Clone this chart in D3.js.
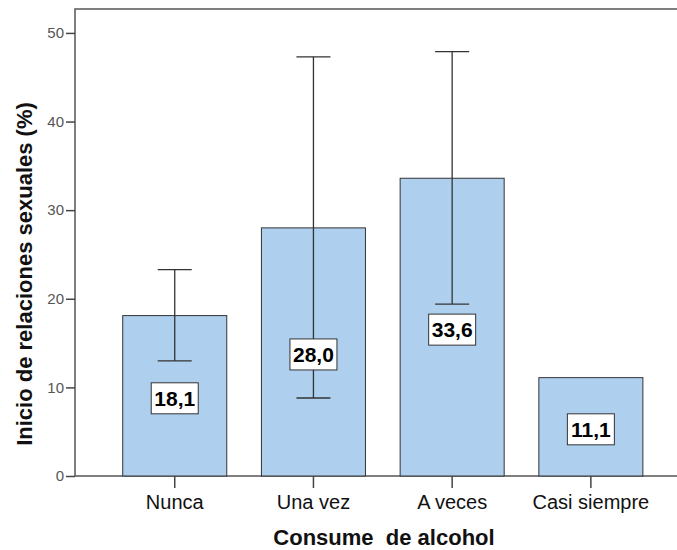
<!DOCTYPE html>
<html>
<head>
<meta charset="utf-8">
<script src="https://cdn.jsdelivr.net/npm/d3@7"></script>
<style>
  body { margin: 0; background: #fff; }
  svg { display: block; font-family: Arial, "Liberation Sans", sans-serif; }
</style>
</head>
<body>
<svg id="chart" width="677" height="550"></svg>
<script>
// Percentage who started sexual relations, by alcohol consumption
const categories = ["Nunca", "Una vez", "A veces", "Casi siempre"];
const values = [18.1, 28.0, 33.6, 11.1];
const ciLow = [13.0, 8.8, 19.4, null];
const ciHigh = [23.3, 47.3, 47.9, null];
const yTicks = [0, 10, 20, 30, 40, 50];

const svg = d3.select("#chart");
const plotLeft = 75, plotTop = 9, plotBottom = 476, plotRight = 690.6;

const x = d3.scaleBand().domain(categories).range([plotLeft, plotRight])
  .paddingInner(0.25).paddingOuter(0.344);
const y = d3.scaleLinear().domain([0, 52.7]).range([plotBottom, plotTop]);

// frame
svg.append("rect").attr("x", plotLeft).attr("y", plotTop)
  .attr("width", plotRight - plotLeft).attr("height", plotBottom - plotTop)
  .attr("fill", "none").attr("stroke", "#555").attr("stroke-width", 1.5);

// bars
svg.selectAll("rect.bar").data(categories).enter().append("rect")
  .attr("class", "bar")
  .attr("x", d => x(d))
  .attr("y", (d, i) => y(values[i]))
  .attr("width", x.bandwidth())
  .attr("height", (d, i) => y(0) - y(values[i]))
  .attr("fill", "#aecfee").attr("stroke", "#333").attr("stroke-width", 1);

// error bars
const cap = 17;
const eb = svg.append("g").attr("stroke", "#333").attr("stroke-width", 1.3);
categories.forEach((c, i) => {
  if (ciLow[i] == null) return;
  const cx = x(c) + x.bandwidth() / 2;
  eb.append("line").attr("x1", cx).attr("x2", cx).attr("y1", y(ciLow[i])).attr("y2", y(ciHigh[i]));
  eb.append("line").attr("x1", cx - cap).attr("x2", cx + cap).attr("y1", y(ciLow[i])).attr("y2", y(ciLow[i]));
  eb.append("line").attr("x1", cx - cap).attr("x2", cx + cap).attr("y1", y(ciHigh[i])).attr("y2", y(ciHigh[i]));
});

// value labels
categories.forEach((c, i) => {
  const cx = x(c) + x.bandwidth() / 2;
  const cy = y(values[i] / 2) + 2.5;
  const g = svg.append("g");
  g.append("rect").attr("x", cx - 23.5).attr("y", cy - 15.5).attr("width", 47).attr("height", 31)
    .attr("fill", "#fff").attr("stroke", "#333").attr("stroke-width", 1);
  g.append("text").attr("x", cx).attr("y", cy + 7.5).attr("text-anchor", "middle")
    .attr("font-size", 21).attr("font-weight", "bold").attr("fill", "#000")
    .text(values[i].toFixed(1).replace(".", ","));
});

// y axis
const yAxis = svg.append("g").attr("transform", `translate(${plotLeft},0)`)
  .call(d3.axisLeft(y).tickValues(yTicks).tickSize(9).tickSizeOuter(0));
yAxis.select(".domain").remove();
yAxis.selectAll(".tick line").attr("stroke", "#444").attr("stroke-width", 1.5);
yAxis.selectAll(".tick text").attr("font-size", 15).attr("fill", "#555").attr("x", -11)
  .attr("font-family", "Arial, 'Liberation Sans', sans-serif");

// x axis
const xAxis = svg.append("g").attr("transform", `translate(0,${plotBottom})`)
  .call(d3.axisBottom(x).tickSize(12).tickSizeOuter(0));
xAxis.select(".domain").remove();
xAxis.selectAll(".tick line").attr("stroke", "#444").attr("stroke-width", 1.5);
xAxis.selectAll(".tick text").attr("font-size", 20).attr("fill", "#111").attr("y", 19)
  .attr("font-family", "Arial, 'Liberation Sans', sans-serif");

// axis titles
svg.append("text").attr("x", 384).attr("y", 545).attr("text-anchor", "middle")
  .attr("font-size", 22).attr("font-weight", "bold").attr("fill", "#111")
  .attr("xml:space", "preserve").text("Consume  de alcohol");
svg.append("text").attr("transform", "translate(32,274) rotate(-90)").attr("text-anchor", "middle")
  .attr("font-size", 22).attr("font-weight", "bold").attr("fill", "#111")
  .text("Inicio de relaciones sexuales (%)");
</script>
</body>
</html>
